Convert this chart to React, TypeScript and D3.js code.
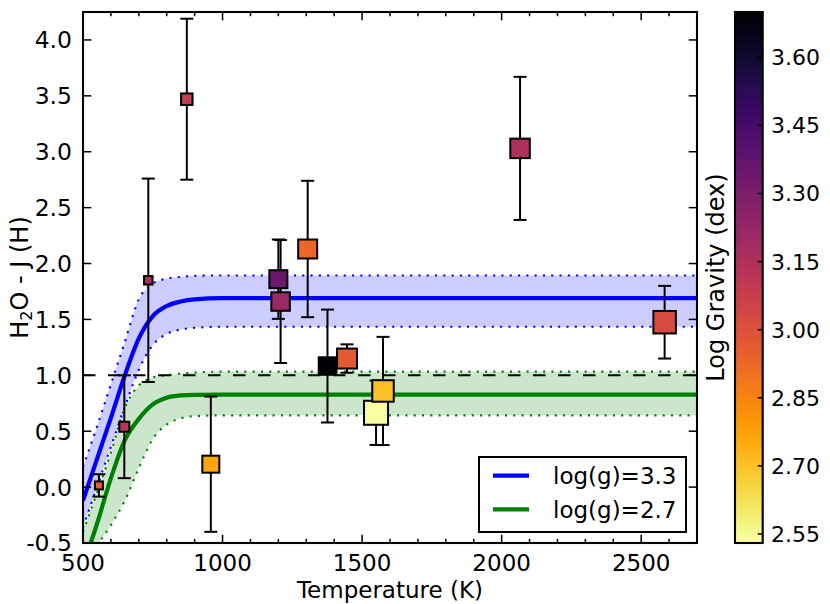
import React from 'react';
import * as d3 from 'd3';

// ---- model curves ----
const modelTemps = [500, 550, 600, 650, 700, 750, 800, 850, 900, 1000, 1200, 2700];
const blueMid = [-0.12, 0.25, 0.62, 1.0, 1.33, 1.53, 1.62, 1.66, 1.68, 1.69, 1.69, 1.69];
const blueHi = [0.18, 0.54, 0.92, 1.3, 1.68, 1.82, 1.865, 1.88, 1.89, 1.893, 1.893, 1.893];
const blueLo = [-0.36, 0.0, 0.36, 0.72, 1.05, 1.27, 1.37, 1.41, 1.425, 1.435, 1.435, 1.435];
const greenMid = [-0.7, -0.33, 0.08, 0.42, 0.61, 0.74, 0.8, 0.82, 0.825, 0.827, 0.827, 0.827];
const greenHi = [-0.4, -0.05, 0.31, 0.71, 0.91, 0.98, 1.0, 1.015, 1.025, 1.033, 1.033, 1.033];
const greenLo = [-0.8, -0.53, -0.34, -0.12, 0.17, 0.43, 0.56, 0.615, 0.635, 0.642, 0.642, 0.642];

// ---- objects ----
const objTemp = [557, 648, 734, 872, 958, 1200, 1208, 1305, 1376, 1446, 1550, 1575, 2066, 2584];
const objIndex = [0.015, 0.54, 1.85, 3.47, 0.205, 1.86, 1.66, 2.13, 1.083, 1.15, 0.665, 0.86, 3.03, 1.475];
const objErr = [0.1, 0.46, 0.91, 0.72, 0.605, 0.355, 0.55, 0.61, 0.505, 0.127, 0.288, 0.484, 0.64, 0.325];
const objLogg = [2.96, 3.13, 3.16, 3.08, 2.76, 3.35, 3.21, 2.93, 3.7, 2.97, 2.53, 2.7, 3.16, 3.02];
const objWeight = [10, 12, 10.5, 13.5, 19, 20, 20.5, 21, 19.5, 22, 26, 23.5, 21.5, 24.5];

const xTicks = [500, 1000, 1500, 2000, 2500];
const xMinor = d3.range(500, 2701, 100);
const yTicks = [-0.5, 0, 0.5, 1.0, 1.5, 2.0, 2.5, 3.0, 3.5, 4.0];
const cbTicks = [2.55, 2.7, 2.85, 3.0, 3.15, 3.3, 3.45, 3.6];
const legendLabels = ['log(g)=3.3', 'log(g)=2.7'];

const W = 830;
const H = 604;
const L = 83, R = 697, T = 12, B = 543;
const CBL = 735, CBR = 762.7;
const FONT = 'DejaVu Sans, sans-serif';

export default function App() {
  const x = d3.scaleLinear().domain([500, 2700]).range([L, R]);
  const y = d3.scaleLinear().domain([-0.5, 4.25]).range([B, T]);
  const gMin = 2.53, gMax = 3.7;
  const cbY = d3.scaleLinear().domain([gMin, gMax]).range([B, T]);
  const color = d3.scaleSequential((t: number) => d3.interpolateInferno(1 - t)).domain([gMin, gMax]);
  const size = d3.scaleLinear().domain([0, 1]).range([0, 1]);

  const mk = (vals: number[]) =>
    d3.line<number>().x((_, i) => x(modelTemps[i])).y((v) => y(v)).curve(d3.curveMonotoneX)(vals) || '';
  const band = (lo: number[], hi: number[]) =>
    d3
      .area<number>()
      .x((_, i) => x(modelTemps[i]))
      .y0((_, i) => y(lo[i]))
      .y1((_, i) => y(hi[i]))
      .curve(d3.curveMonotoneX)(modelTemps) || '';

  const stops = d3.range(0, 1.0001, 0.02);

  return (
    <svg width={W} height={H} style={{ position: 'absolute', left: 0, top: 0, background: '#fff' }} fontFamily={FONT}>
      <defs>
        <clipPath id="plotclip">
          <rect x={L} y={T} width={R - L} height={B - T} />
        </clipPath>
        <linearGradient id="cbgrad" x1="0" y1="1" x2="0" y2="0">
          {stops.map((s) => (
            <stop key={s} offset={s} stopColor={color(gMin + s * (gMax - gMin))} />
          ))}
        </linearGradient>
      </defs>
      <rect x={0} y={0} width={W} height={H} fill="#fff" />
      <g clipPath="url(#plotclip)">
        <path d={band(blueLo, blueHi)} fill="rgb(0,0,255)" fillOpacity={0.2} stroke="none" />
        <path d={band(greenLo, greenHi)} fill="rgb(0,128,0)" fillOpacity={0.2} stroke="none" />
        <path d={mk(blueHi)} fill="none" stroke="#0000ff" strokeWidth={2.1} strokeDasharray="2.1 6.2" />
        <path d={mk(blueLo)} fill="none" stroke="#0000ff" strokeWidth={2.1} strokeDasharray="2.1 6.2" />
        <path d={mk(greenHi)} fill="none" stroke="#008000" strokeWidth={2.1} strokeDasharray="2.1 6.2" />
        <path d={mk(greenLo)} fill="none" stroke="#008000" strokeWidth={2.1} strokeDasharray="2.1 6.2" />
        <path d={mk(blueMid)} fill="none" stroke="#0000ff" strokeWidth={4.2} />
        <path d={mk(greenMid)} fill="none" stroke="#008000" strokeWidth={4.2} />
        <line x1={L} x2={R} y1={y(1)} y2={y(1)} stroke="#000" strokeWidth={2} strokeDasharray="12.5 12.5" />
        {objTemp.map((t, i) => {
          const cx = x(t);
          const y0 = y(objIndex[i] - objErr[i]);
          const y1 = y(objIndex[i] + objErr[i]);
          return (
            <g key={'e' + i} stroke="#000" strokeWidth={2}>
              <line x1={cx} x2={cx} y1={y0} y2={y1} />
              <line x1={cx - 6.5} x2={cx + 6.5} y1={y0} y2={y0} />
              <line x1={cx - 6.5} x2={cx + 6.5} y1={y1} y2={y1} />
            </g>
          );
        })}
        {objTemp.map((t, i) => {
          const s = size(objWeight[i]) - 2;
          return (
            <rect
              key={'m' + i}
              x={x(t) - s / 2}
              y={y(objIndex[i]) - s / 2}
              width={s}
              height={s}
              fill={color(objLogg[i])}
              stroke="#000"
              strokeWidth={2}
            />
          );
        })}
      </g>

      {/* ticks */}
      <g stroke="#000" strokeWidth={1.5}>
        {xMinor.map((v) => {
          const len = xTicks.includes(v) ? 8.3 : 4.2;
          return (
            <g key={'xt' + v}>
              <line x1={x(v)} x2={x(v)} y1={B} y2={B - len} />
              <line x1={x(v)} x2={x(v)} y1={T} y2={T + len} />
            </g>
          );
        })}
        {yTicks.map((v) => (
          <g key={'yt' + v}>
            <line x1={L} x2={L + 8.3} y1={y(v)} y2={y(v)} />
            <line x1={R} x2={R - 8.3} y1={y(v)} y2={y(v)} />
          </g>
        ))}
      </g>
      <rect x={L} y={T} width={R - L} height={B - T} fill="none" stroke="#000" strokeWidth={2.1} />

      {/* tick labels */}
      {xTicks.map((v) => (
        <text key={'xl' + v} x={x(v)} y={571} textAnchor="middle" fontSize={23} fill="#000">
          {v}
        </text>
      ))}
      {yTicks.map((v) => (
        <text key={'yl' + v} x={72} y={y(v)} dy="0.36em" textAnchor="end" fontSize={23.5} fill="#000">
          {v.toFixed(1)}
        </text>
      ))}
      <text x={(L + R) / 2} y={598} textAnchor="middle" fontSize={23} fill="#000">
        Temperature (K)
      </text>
      <text transform={`translate(28, ${(T + B) / 2}) rotate(-90)`} textAnchor="middle" fontSize={24} fill="#000">
        H<tspan fontSize={16} dy="4">2</tspan>
        <tspan dy="-4">O - J (H)</tspan>
      </text>

      {/* legend */}
      <g>
        <rect x={479} y={457} width={207} height={75} fill="#fff" stroke="#000" strokeWidth={2} />
        {legendLabels.map((lab, i) => {
          const ly = 475.7 + i * 33.6;
          return (
            <g key={lab}>
              <line x1={493} x2={529} y1={ly} y2={ly} stroke={i === 0 ? '#0000ff' : '#008000'} strokeWidth={4.2} />
              <text x={553} y={ly} dy="0.36em" fontSize={23} fill="#000">
                {lab}
              </text>
            </g>
          );
        })}
      </g>

      {/* colorbar */}
      <rect x={CBL} y={T} width={CBR - CBL} height={B - T} fill="url(#cbgrad)" />
      <g stroke="#000" strokeWidth={1.5}>
        {cbTicks.map((v) => (
          <line key={'cbt' + v} x1={CBR} x2={CBR - 5} y1={cbY(v)} y2={cbY(v)} />
        ))}
      </g>
      <rect x={CBL} y={T} width={CBR - CBL} height={B - T} fill="none" stroke="#000" strokeWidth={2.1} />
      {cbTicks.map((v) => (
        <text key={'cbl' + v} x={771} y={cbY(v)} dy="0.36em" fontSize={22} fill="#000">
          {v.toFixed(2)}
        </text>
      ))}
      <text transform={`translate(724, ${(T + B) / 2}) rotate(-90)`} textAnchor="middle" fontSize={24} fill="#000">
        Log Gravity (dex)
      </text>
    </svg>
  );
}
